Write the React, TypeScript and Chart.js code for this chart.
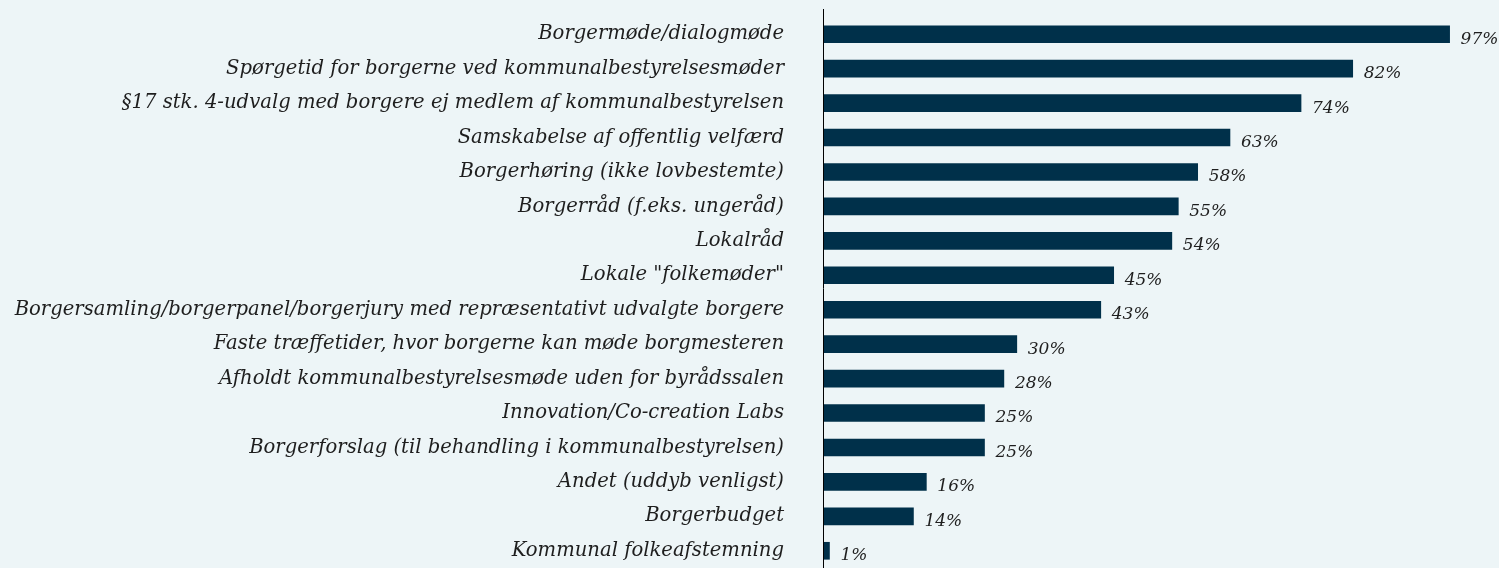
import React, { useEffect, useRef } from "react";
import { Chart, registerables } from "chart.js";

Chart.register(...registerables);

const categories = [
  "Borgermøde/dialogmøde",
  "Spørgetid for borgerne ved kommunalbestyrelsesmøder",
  "§17 stk. 4-udvalg med borgere ej medlem af kommunalbestyrelsen",
  "Samskabelse af offentlig velfærd",
  "Borgerhøring (ikke lovbestemte)",
  "Borgerråd (f.eks. ungeråd)",
  "Lokalråd",
  "Lokale \"folkemøder\"",
  "Borgersamling/borgerpanel/borgerjury med repræsentativt udvalgte borgere",
  "Faste træffetider, hvor borgerne kan møde borgmesteren",
  "Afholdt kommunalbestyrelsesmøde uden for byrådssalen",
  "Innovation/Co-creation Labs",
  "Borgerforslag (til behandling i kommunalbestyrelsen)",
  "Andet (uddyb venligst)",
  "Borgerbudget",
  "Kommunal folkeafstemning",
];

const values = [97, 82, 74, 63, 58, 55, 54, 45, 43, 30, 28, 25, 25, 16, 14, 1];
const valueLabels = ["97%", "82%", "74%", "63%", "58%", "55%", "54%", "45%", "43%", "30%", "28%", "25%", "25%", "16%", "14%", "1%"];

const BG = "#edf5f7";
const BAR = "#00304a";
const TEXT = "#1e1e1e";
const FONT = "'DejaVu Serif'";

export default function App() {
  const ref = useRef<HTMLCanvasElement>(null);

  useEffect(() => {
    document.body.style.margin = "0";
    document.body.style.background = BG;
    const canvas = ref.current;
    if (!canvas) return;

    const axisLine = {
      id: "axisLine",
      afterDraw(chart: any) {
        const ctx = chart.ctx;
        const x = Math.round(chart.chartArea.left) + 0.5;
        ctx.save();
        ctx.strokeStyle = "#000";
        ctx.lineWidth = 1;
        ctx.beginPath();
        ctx.moveTo(x, 9);
        ctx.lineTo(x, chart.height);
        ctx.stroke();
        ctx.restore();
      },
    };

    const valueLabelPlugin = {
      id: "valueLabels",
      afterDatasetsDraw(chart: any) {
        const ctx = chart.ctx;
        const meta = chart.getDatasetMeta(0);
        ctx.save();
        ctx.font = `italic 17px ${FONT}`;
        ctx.fillStyle = TEXT;
        ctx.textAlign = "left";
        ctx.textBaseline = "middle";
        meta.data.forEach((bar: any, i: number) => {
          ctx.fillText(valueLabels[i], bar.x + 11, bar.y + 5);
        });
        ctx.restore();
      },
    };

    const chart = new Chart(canvas, {
      type: "bar",
      data: {
        labels: categories,
        datasets: [
          {
            data: values,
            backgroundColor: BAR,
            borderWidth: 0,
            barThickness: 17,
          },
        ],
      },
      options: {
        indexAxis: "y",
        animation: false,
        responsive: true,
        maintainAspectRatio: false,
        layout: { autoPadding: false, padding: { top: 17, right: 30, bottom: 0, left: 0 } },
        plugins: {
          legend: { display: false },
          tooltip: { enabled: false },
        },
        scales: {
          x: {
            display: false,
            min: 0,
            max: 100,
            grid: { display: false },
          },
          y: {
            afterFit(scale: any) {
              scale.width = 823;
              scale.paddingTop = 0;
              scale.paddingBottom = 0;
            },
            grid: { display: false },
            border: { display: false },
            ticks: {
              color: TEXT,
              padding: 31,
              autoSkip: false,
              font: { family: "DejaVu Serif", size: 19.6, style: "italic" },
            },
          },
        },
      },
      plugins: [axisLine, valueLabelPlugin],
    });

    return () => chart.destroy();
  }, []);

  return (
    <div
      style={{
        position: "absolute",
        left: 0,
        top: 0,
        width: 1499,
        height: 568,
        background: BG,
      }}
    >
      <canvas ref={ref} />
    </div>
  );
}
